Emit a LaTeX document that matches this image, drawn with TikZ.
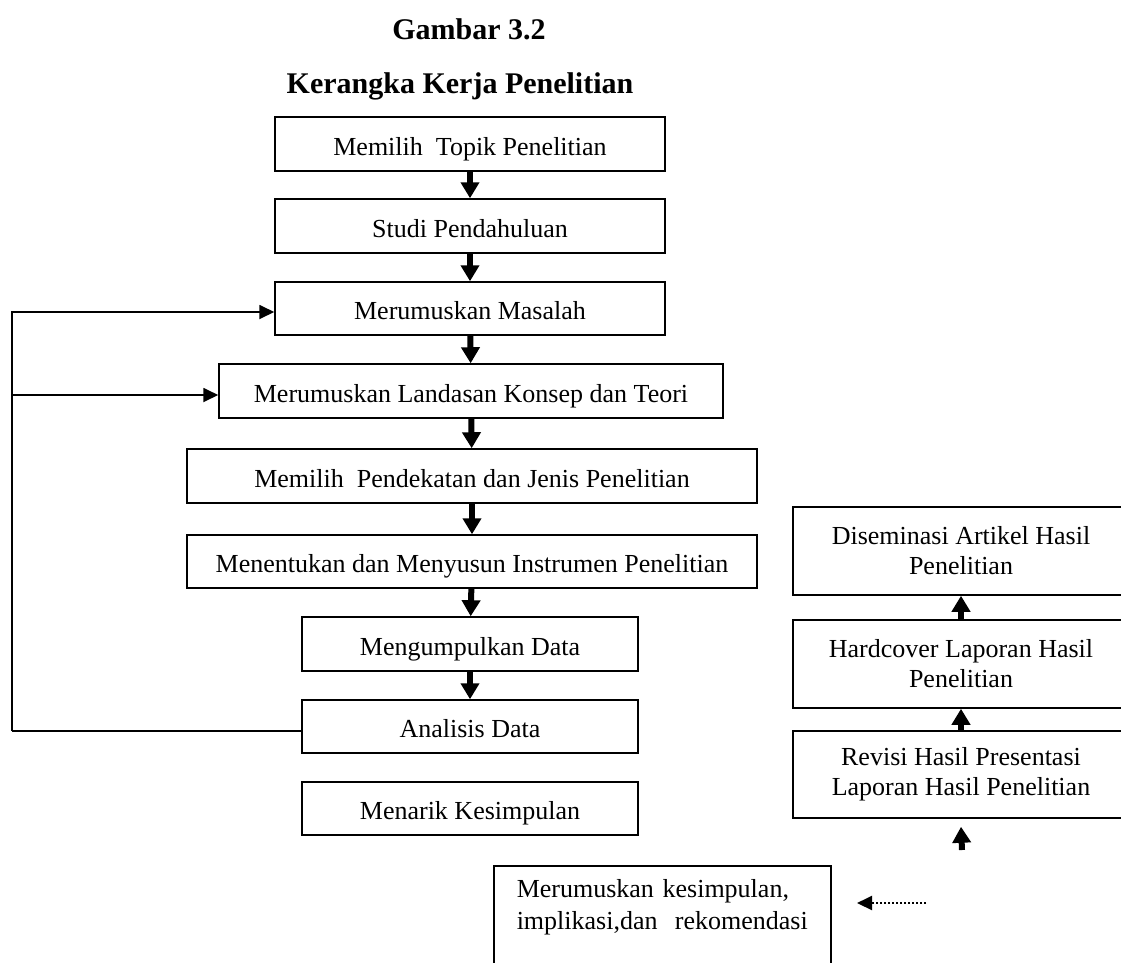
\documentclass[tikz,border=0pt]{standalone}
\usepackage{fontspec}
\setmainfont{Liberation Serif}
\usetikzlibrary{arrows.meta}

\begin{document}
\begin{tikzpicture}[
    x=1pt, y=-1pt,
    box/.style={
        draw,
        line width=1.5pt,
        inner sep=0pt,
        align=center,
        font=\fontsize{26}{30}\selectfont
    },
    line/.style={
        box,
        text height=22pt,
        text depth=0pt
    },
    title/.style={
        font=\fontsize{30}{34}\selectfont\bfseries
    },
    down/.style={
        line width=6pt,
        -{Triangle[width=18pt,length=16pt]}
    },
    back/.style={
        line width=1.8pt,
        -{Triangle[width=14pt,length=15pt]}
    }
]
\useasboundingbox (0,0) rectangle (1121,962);
\clip (0,0) rectangle (1121,962);

% Title
\node[title] (judul) at (469,29) {Gambar 3.2};
\node[title] (subjudul) at (460,86) {Kerangka Kerja Penelitian};

% Main column
\node[line, minimum width=390pt, minimum height=54pt] (topik) at (470,144) {Memilih\ \ Topik Penelitian};
\node[line, minimum width=390pt, minimum height=54pt] (studi) at (470,226) {Studi Pendahuluan};
\node[line, minimum width=390pt, minimum height=53pt] (masalah) at (470,308.5) {Merumuskan Masalah};
\node[line, minimum width=504pt, minimum height=54pt] (landasan) at (471,391) {Merumuskan Landasan Konsep dan Teori};
\node[line, minimum width=570pt, minimum height=54pt] (pendekatan) at (472,476) {Memilih\ \ Pendekatan dan Jenis Penelitian};
\node[line, minimum width=570pt, minimum height=53pt] (instrumen) at (472,561.5) {Menentukan dan Menyusun Instrumen Penelitian};
\node[line, minimum width=336pt, minimum height=54pt] (kumpul) at (470,644) {Mengumpulkan Data};
\node[line, minimum width=336pt, minimum height=53pt] (analisis) at (470,726.5) {Analisis Data};
\node[line, minimum width=336pt, minimum height=53pt] (menarik) at (470,808.5) {Menarik Kesimpulan};

% Right column
\node[box, minimum width=336pt, minimum height=88pt] (diseminasi) at (961,551) {Diseminasi Artikel Hasil\\Penelitian};
\node[box, minimum width=336pt, minimum height=88pt] (hardcover) at (961,664) {Hardcover Laporan Hasil\\Penelitian};
\node[box, minimum width=336pt, minimum height=87pt] (revisi) at (961,774.5) {Revisi Hasil Presentasi\\Laporan Hasil Penelitian};

% Bottom box
\node[box, anchor=north west, align=left, text width=291pt, minimum height=110pt,
      inner xsep=23pt, inner ysep=1pt, font=\fontsize{26}{32}\selectfont]
    (rumus) at (493,865) {Merumuskan kesimpulan,\\implikasi,dan\ \ rekomendasi\\\mbox{}};

% Arrows down
\draw[down] (topik) -- (studi);
\draw[down] (studi) -- (masalah);
\draw[down] (masalah) -- (landasan);
\draw[down] (landasan) -- (pendekatan);
\draw[down] (pendekatan) -- (instrumen);
\draw[down] (instrumen) -- (kumpul);
\draw[down] (kumpul) -- (analisis);

% Arrows up
\coordinate (bawah) at (962,850);
\draw[down] (bawah) -- ([yshift=-8pt]revisi.south);
\draw[down] (revisi) -- (hardcover);
\draw[down] (hardcover) -- (diseminasi);

% Dotted arrow
\coordinate (titik) at (926,903);
\draw[line width=2pt, dotted, -{Triangle[width=14pt,length=15pt]}] (titik) -- (857,903);

% Feedback lines
\coordinate (kiri) at (12,731);
\draw[line width=1.8pt] ([yshift=-4.5pt]analisis.west) -- (kiri);
\draw[back] (kiri) |- ([yshift=-3.5pt]masalah.west);
\draw[back] ([yshift=-4pt]kiri |- landasan.west) -- ([yshift=-4pt]landasan.west);

\end{tikzpicture}
\end{document}
